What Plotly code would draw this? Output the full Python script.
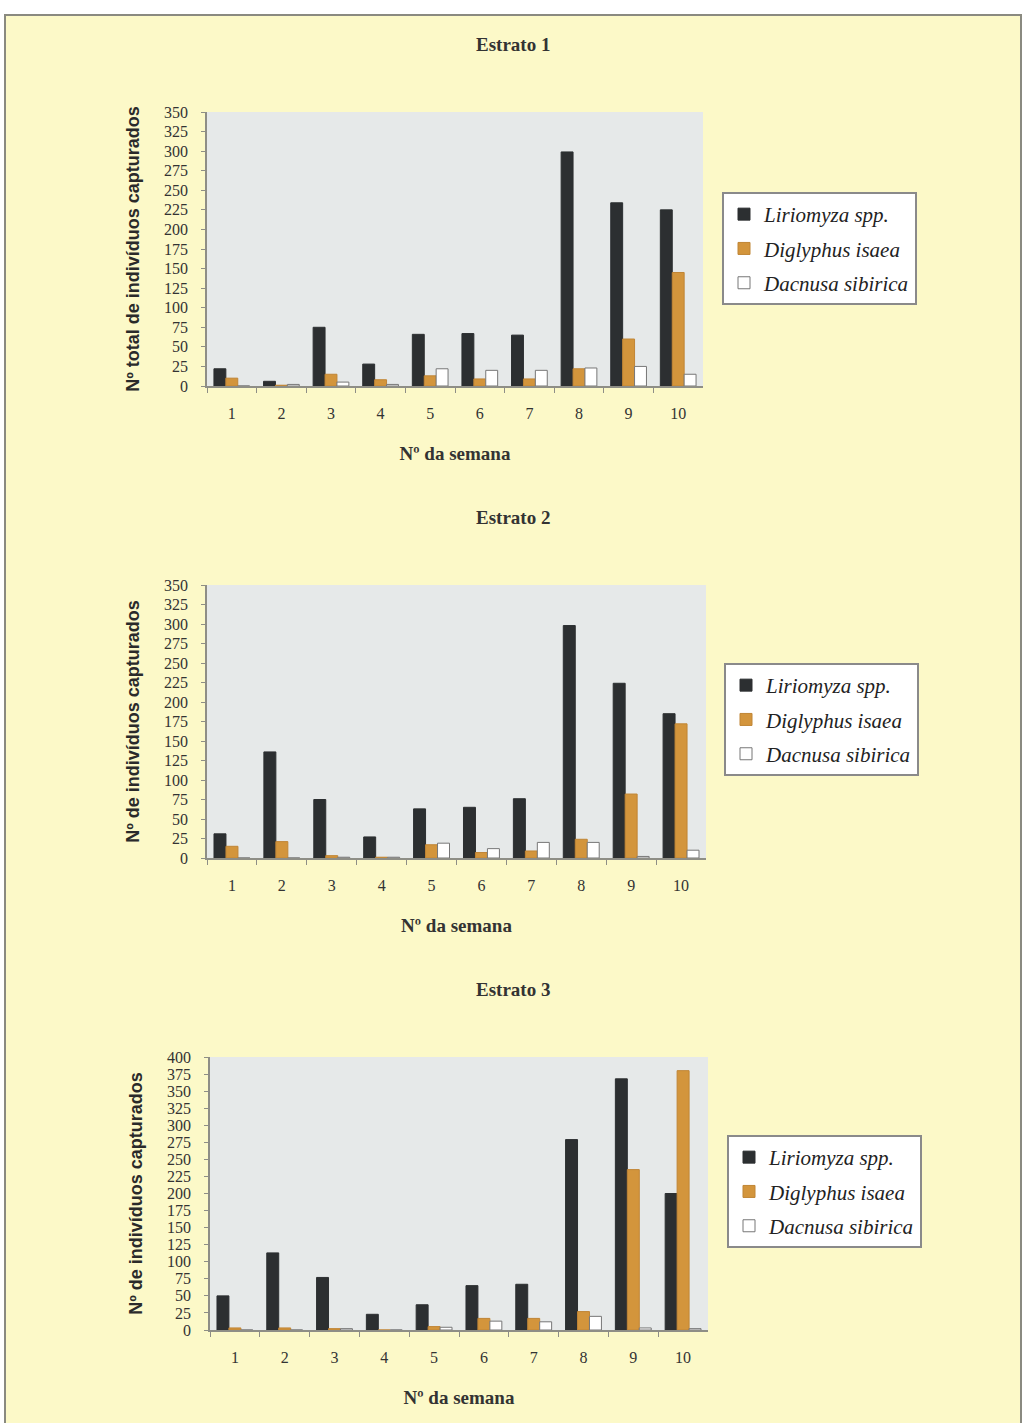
import plotly.graph_objects as go

weeks = ["1", "2", "3", "4", "5", "6", "7", "8", "9", "10"]
series_names = ["Liriomyza spp.", "Diglyphus isaea", "Dacnusa sibirica"]

# Estrato 1
e1_liriomyza = [22, 6, 75, 28, 66, 67, 65, 299, 234, 225]
e1_diglyphus = [10, 1, 15, 8, 13, 9, 9, 22, 60, 145]
e1_dacnusa = [0, 2, 5, 2, 22, 20, 20, 23, 25, 15]

# Estrato 2
e2_liriomyza = [31, 136, 75, 27, 63, 65, 76, 298, 224, 185]
e2_diglyphus = [15, 21, 3, 1, 17, 7, 9, 24, 82, 172]
e2_dacnusa = [0, 0, 1, 1, 19, 12, 20, 20, 2, 10]

# Estrato 3
e3_liriomyza = [50, 113, 77, 23, 37, 65, 67, 279, 368, 200]
e3_diglyphus = [3, 3, 2, 0, 5, 17, 17, 27, 235, 380]
e3_dacnusa = [0, 0, 2, 0, 4, 13, 12, 20, 3, 2]

titles = ["Estrato 1", "Estrato 2", "Estrato 3"]
ytitles = ["Nº total de indivíduos capturados", "Nº de indivíduos capturados", "Nº de indivíduos capturados"]
xtitle = "Nº da semana"
yticks_12 = list(range(0, 351, 25))
yticks_3 = list(range(0, 401, 25))

W, H = 1032, 1423
def px(x):
    return x / W
def py(y):
    return 1 - y / H

panels = [
    dict(data=[e1_liriomyza, e1_diglyphus, e1_dacnusa], x=(207, 703), y=(112, 386), ymax=350, ticks=yticks_12,
         title_y=44, legend=(722, 192)),
    dict(data=[e2_liriomyza, e2_diglyphus, e2_dacnusa], x=(207, 706), y=(585, 858), ymax=350, ticks=yticks_12,
         title_y=517, legend=(724, 663)),
    dict(data=[e3_liriomyza, e3_diglyphus, e3_dacnusa], x=(210, 708), y=(1057, 1330), ymax=400, ticks=yticks_3,
         title_y=989, legend=(727, 1135)),
]

colors = ["#2c2f31", "#d3953c", "#ffffff"]
line_colors = ["#2c2f31", "#c08535", "#777777"]

fig = go.Figure()
layout = dict(
    width=W, height=H,
    margin=dict(l=0, r=0, t=0, b=0),
    paper_bgcolor="#ffffff",
    barmode="group", bargap=0.28, bargroupgap=0.0,
    showlegend=True,
    annotations=[],
    shapes=[dict(type="rect", xref="paper", yref="paper", x0=px(5), x1=px(1021), y0=-0.01, y1=py(15),
                 line=dict(color="#8a8a80", width=2), fillcolor="#fcf9c8", layer="below")],
)

serif = "Liberation Serif"
for i, p in enumerate(panels):
    sfx = "" if i == 0 else str(i + 1)
    xa, ya = "x" + sfx, "y" + sfx
    lg = "legend" + sfx
    for j, name in enumerate(series_names):
        fig.add_trace(go.Bar(
            x=weeks, y=p["data"][j], name="<i>" + name + "</i>",
            xaxis=xa, yaxis=ya, legend=lg, legendgroup=f"{i}_{j}",
            marker=dict(color=colors[j], line=dict(color=line_colors[j], width=1)),
        ))
    layout["xaxis" + sfx] = dict(
        domain=[px(p["x"][0]), px(p["x"][1])], anchor=ya, type="category",
        showline=True, linecolor="#8e8e86", linewidth=1.5,
        ticks="outside", tickson="boundaries", ticklen=5, tickcolor="#8e8e86",
        tickfont=dict(family=serif, size=16, color="#333333"), ticklabelstandoff=12,
        showgrid=False, zeroline=False,
        title=dict(text="<b>" + xtitle + "</b>", font=dict(family=serif, size=19, color="#333333"), standoff=26),
        automargin=False,
    )
    layout["yaxis" + sfx] = dict(
        domain=[py(p["y"][1]), py(p["y"][0])], anchor=xa, range=[0, p["ymax"]],
        tickvals=p["ticks"], showline=True, linecolor="#8e8e86", linewidth=1.5,
        ticks="outside", ticklen=4, tickcolor="#8e8e86",
        tickfont=dict(family=serif, size=16, color="#333333"), ticklabelstandoff=10,
        showgrid=False, zeroline=False,
        title=dict(text="<b>" + ytitles[i] + "</b>", font=dict(family="Liberation Sans", size=18, color="#2a2a2a"),
                   standoff=20),
        automargin=False,
    )
    layout[lg] = dict(
        x=px(p["legend"][0]), y=py(p["legend"][1]), xanchor="left", yanchor="top",
        bgcolor="#ffffff", bordercolor="#8a8a8a", borderwidth=2,
        font=dict(family=serif, size=21, color="#222222"),
        tracegroupgap=4, itemwidth=30,
    )
    layout["shapes"].append(dict(type="rect", xref="paper", yref="paper",
                                 x0=px(p["x"][0]), x1=px(p["x"][1]), y0=py(p["y"][1]), y1=py(p["y"][0]),
                                 line=dict(width=0), fillcolor="#e6e9e9", layer="below"))
    layout["annotations"].append(dict(
        text="<b>" + titles[i] + "</b>", xref="paper", yref="paper",
        x=px(513), y=py(p["title_y"]), xanchor="center", yanchor="middle", showarrow=False,
        font=dict(family=serif, size=19, color="#333333")))

layout["plot_bgcolor"] = "rgba(0,0,0,0)"
fig.update_layout(**layout)
fig.write_html("out.html", config={"displayModeBar": False},
               post_script="document.body.style.margin='0';document.body.style.overflow='hidden';")
